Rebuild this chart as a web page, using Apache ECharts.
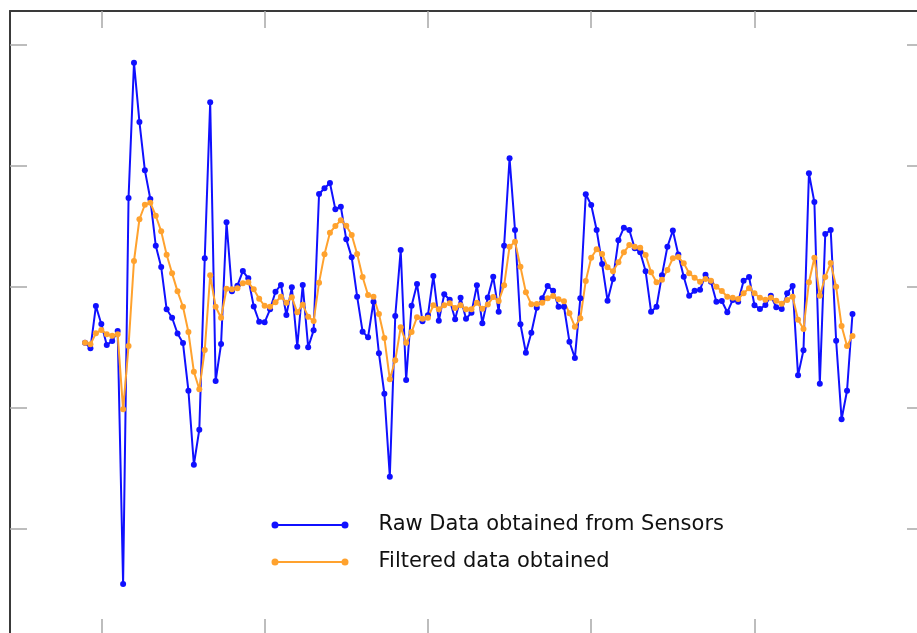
<!DOCTYPE html>
<html>
<head>
<meta charset="utf-8">
<script src="https://cdn.jsdelivr.net/npm/echarts@6/dist/echarts.min.js"></script>
<style>html,body{margin:0;padding:0;background:#fff;}#c{width:917px;height:633px;}</style>
</head>
<body>
<div id="c"></div>
<script>
// sample numbers start at 27, one sample per step
const firstSample = 27;
const rawData = [-0.460,-0.507,-0.157,-0.306,-0.479,-0.446,-0.364,-2.455,0.736,1.854,
1.364,0.964,0.727,0.341,0.165,-0.184,-0.254,-0.384,-0.463,-0.857,
-1.469,-1.179,0.237,1.526,-0.777,-0.471,0.535,-0.036,0.011,0.132,
0.072,-0.160,-0.287,-0.292,-0.184,-0.039,0.017,-0.231,-0.002,-0.493,
0.017,-0.498,-0.358,0.769,0.816,0.860,0.642,0.664,0.394,0.245,
-0.080,-0.369,-0.416,-0.121,-0.548,-0.882,-1.568,-0.240,0.306,-0.769,
-0.155,0.025,-0.283,-0.234,0.091,-0.279,-0.060,-0.105,-0.267,-0.088,
-0.262,-0.212,0.014,-0.299,-0.087,0.084,-0.204,0.341,1.064,0.471,
-0.308,-0.543,-0.378,-0.171,-0.093,0.008,-0.031,-0.163,-0.163,-0.452,
-0.587,-0.093,0.766,0.678,0.471,0.190,-0.113,0.066,0.386,0.490,
0.471,0.320,0.287,0.130,-0.204,-0.163,0.098,0.333,0.467,0.269,
0.085,-0.072,-0.031,-0.022,0.102,0.044,-0.121,-0.116,-0.209,-0.107,
-0.121,0.052,0.083,-0.151,-0.182,-0.149,-0.072,-0.168,-0.182,-0.052,
0.008,-0.730,-0.523,0.940,0.702,-0.799,0.438,0.471,-0.444,-1.093,
-0.857,-0.223];
const filteredData = [-0.460,-0.474,-0.383,-0.355,-0.391,-0.402,-0.391,-1.011,-0.488,0.215,
0.560,0.680,0.697,0.589,0.460,0.267,0.113,-0.036,-0.163,-0.372,
-0.700,-0.845,-0.521,0.097,-0.163,-0.254,-0.014,-0.019,-0.011,0.031,
0.039,-0.019,-0.097,-0.155,-0.163,-0.126,-0.080,-0.130,-0.085,-0.209,
-0.146,-0.245,-0.281,0.036,0.270,0.449,0.504,0.551,0.507,0.430,
0.273,0.083,-0.066,-0.080,-0.223,-0.421,-0.763,-0.606,-0.333,-0.460,
-0.372,-0.250,-0.262,-0.254,-0.151,-0.184,-0.151,-0.135,-0.174,-0.151,
-0.184,-0.184,-0.130,-0.180,-0.145,-0.083,-0.116,0.014,0.333,0.374,
0.168,-0.044,-0.143,-0.140,-0.130,-0.093,-0.074,-0.102,-0.118,-0.217,
-0.328,-0.259,0.050,0.242,0.312,0.273,0.163,0.130,0.204,0.287,
0.347,0.333,0.325,0.264,0.121,0.039,0.060,0.140,0.238,0.248,
0.196,0.113,0.077,0.044,0.066,0.052,0.002,-0.033,-0.080,-0.088,
-0.099,-0.052,-0.011,-0.052,-0.088,-0.105,-0.088,-0.113,-0.138,-0.107,
-0.080,-0.270,-0.347,0.039,0.242,-0.072,0.083,0.198,0.002,-0.322,
-0.488,-0.405];
const xTicks = [30, 60, 90, 120, 150, 180];
const yTicks = [-2, -1, 0, 1, 2];
const seriesNames = ['Raw Data obtained from Sensors', 'Filtered data obtained'];

const toPairs = arr => arr.map((v, i) => [firstSample + i, v]);

const legendIcon = 'path://M0,3.5a3.5,3.5 0 1,1 7,0a3.5,3.5 0 1,1 -7,0Z M3.5,2.5H73.5V4.5H3.5Z M70,3.5a3.5,3.5 0 1,1 7,0a3.5,3.5 0 1,1 -7,0Z';

const frameLine = {show: true, onZero: false, lineStyle: {color: '#3a3a3a', width: 2}};
function xAx(pos) {
  return {type: 'value', position: pos, min: 13.221, max: 181.14,
    axisLine: frameLine,
    axisTick: {show: true, inside: true, length: 17, customValues: xTicks, lineStyle: {color: '#a8a8a8', width: 1.5}},
    axisLabel: {show: false}, splitLine: {show: false}};
}
function yAx(pos) {
  return {type: 'value', position: pos, min: -2.884, max: 2.281,
    axisLine: frameLine,
    axisTick: {show: true, inside: true, length: 17, customValues: yTicks, lineStyle: {color: '#a8a8a8', width: 1.5}},
    axisLabel: {show: false}, splitLine: {show: false}};
}

const chart = echarts.init(document.getElementById('c'));
chart.setOption({
  animation: false,
  backgroundColor: '#fff',
  grid: {left: 10, top: 11, width: 914, height: 625, containLabel: false, outerBoundsMode: 'none'},
  xAxis: [xAx('bottom'), xAx('top')],
  yAxis: [yAx('left'), yAx('right')],
  legend: {
    orient: 'vertical', left: 266.5, top: 509, itemWidth: 77, itemHeight: 7, itemGap: 15,
    icon: legendIcon, selectedMode: false,
    textStyle: {fontFamily: 'DejaVu Sans', fontSize: 21, color: '#111', lineHeight: 22, padding: [0, 0, 0, 25]},
    data: seriesNames
  },
  series: [
    {name: seriesNames[0], type: 'line', xAxisIndex: 0, yAxisIndex: 0, data: toPairs(rawData),
      symbol: 'circle', symbolSize: 6, showAllSymbol: true,
      itemStyle: {color: '#1010ff'}, lineStyle: {color: '#1010ff', width: 2}},
    {name: seriesNames[1], type: 'line', xAxisIndex: 0, yAxisIndex: 0, data: toPairs(filteredData),
      symbol: 'circle', symbolSize: 6, showAllSymbol: true,
      itemStyle: {color: '#ffa22e'}, lineStyle: {color: '#ffa22e', width: 2}}
  ]
});
</script>
</body>
</html>
